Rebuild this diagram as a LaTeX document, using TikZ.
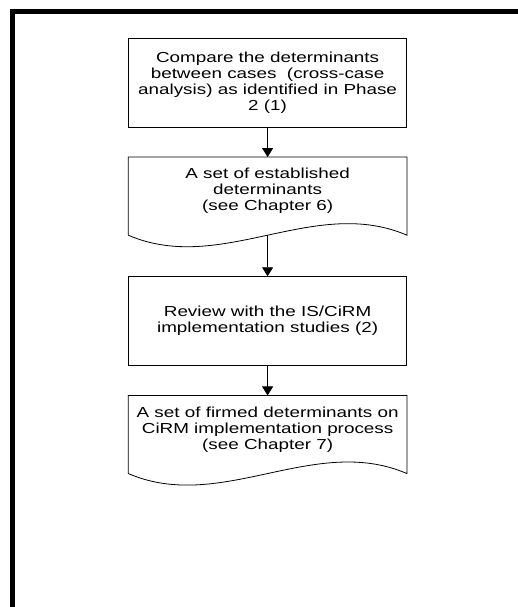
\documentclass[tikz,border=0pt]{standalone}
\usepackage{fontspec}
\setmainfont[FakeStretch=1.3]{Liberation Sans}
\usetikzlibrary{arrows.meta,calc}
\begin{document}
\begin{tikzpicture}[x=1pt,y=1pt,
  procbox/.style={draw=black,line width=0.8pt,minimum width=278.2pt,inner sep=0pt,align=center,
    font=\fontsize{14.5}{16}\selectfont},
  docshape/.style={draw=none,minimum width=278.2pt,minimum height=77.7pt,inner sep=0pt},
  doctext/.style={align=center,inner sep=0pt,font=\fontsize{14.5}{16}\selectfont},
  flow/.style={line width=0.8pt,-{Triangle[width=11pt,length=9pt]}}]
\useasboundingbox (0,0) rectangle (518,607);
\fill[white] (0,0) rectangle (518,607);
% outer frame
\draw[line width=4.5pt,line join=miter] (12.5,-5) -- (12.5,595.3) -- (530,595.3);
% boxes
\node[procbox,minimum height=89pt] (b1) at (267.6,524.2)
  {Compare the determinants\\between cases\ \ (cross-case\\analysis) as identified in Phase\\2 (1)};
\node[docshape] (d1) at (267.6,410.85) {};
\node[doctext] (d1t) at (267.6,416.5) {A set of established\\determinants\\(see Chapter 6)};
\node[procbox,minimum height=89pt] (b3) at (267.6,285.8)
  {Review with the IS/CiRM\\implementation studies (2)};
\node[docshape] (d2) at (267.6,172.5) {};
\node[doctext] (d2t) at (267.6,177.7) {A set of firmed determinants on\\CiRM implementation process\\(see Chapter 7)};
% document outlines
\foreach \d in {d1,d2}{
  \draw[line width=0.8pt,line join=miter] (\d.south west) -- (\d.north west) -- (\d.north east) -- (\d.south east)
    .. controls ($(\d.south east)+(-92.7,40)$) and ($(\d.south west)+(92.7,-40)$) .. (\d.south west);
}
% connectors
\draw[flow] (b1.south) -- (d1.north);
\draw[flow] (d1.south) -- (b3.north);
\draw[flow] (b3.south) -- (d2.north);
\end{tikzpicture}
\end{document}
